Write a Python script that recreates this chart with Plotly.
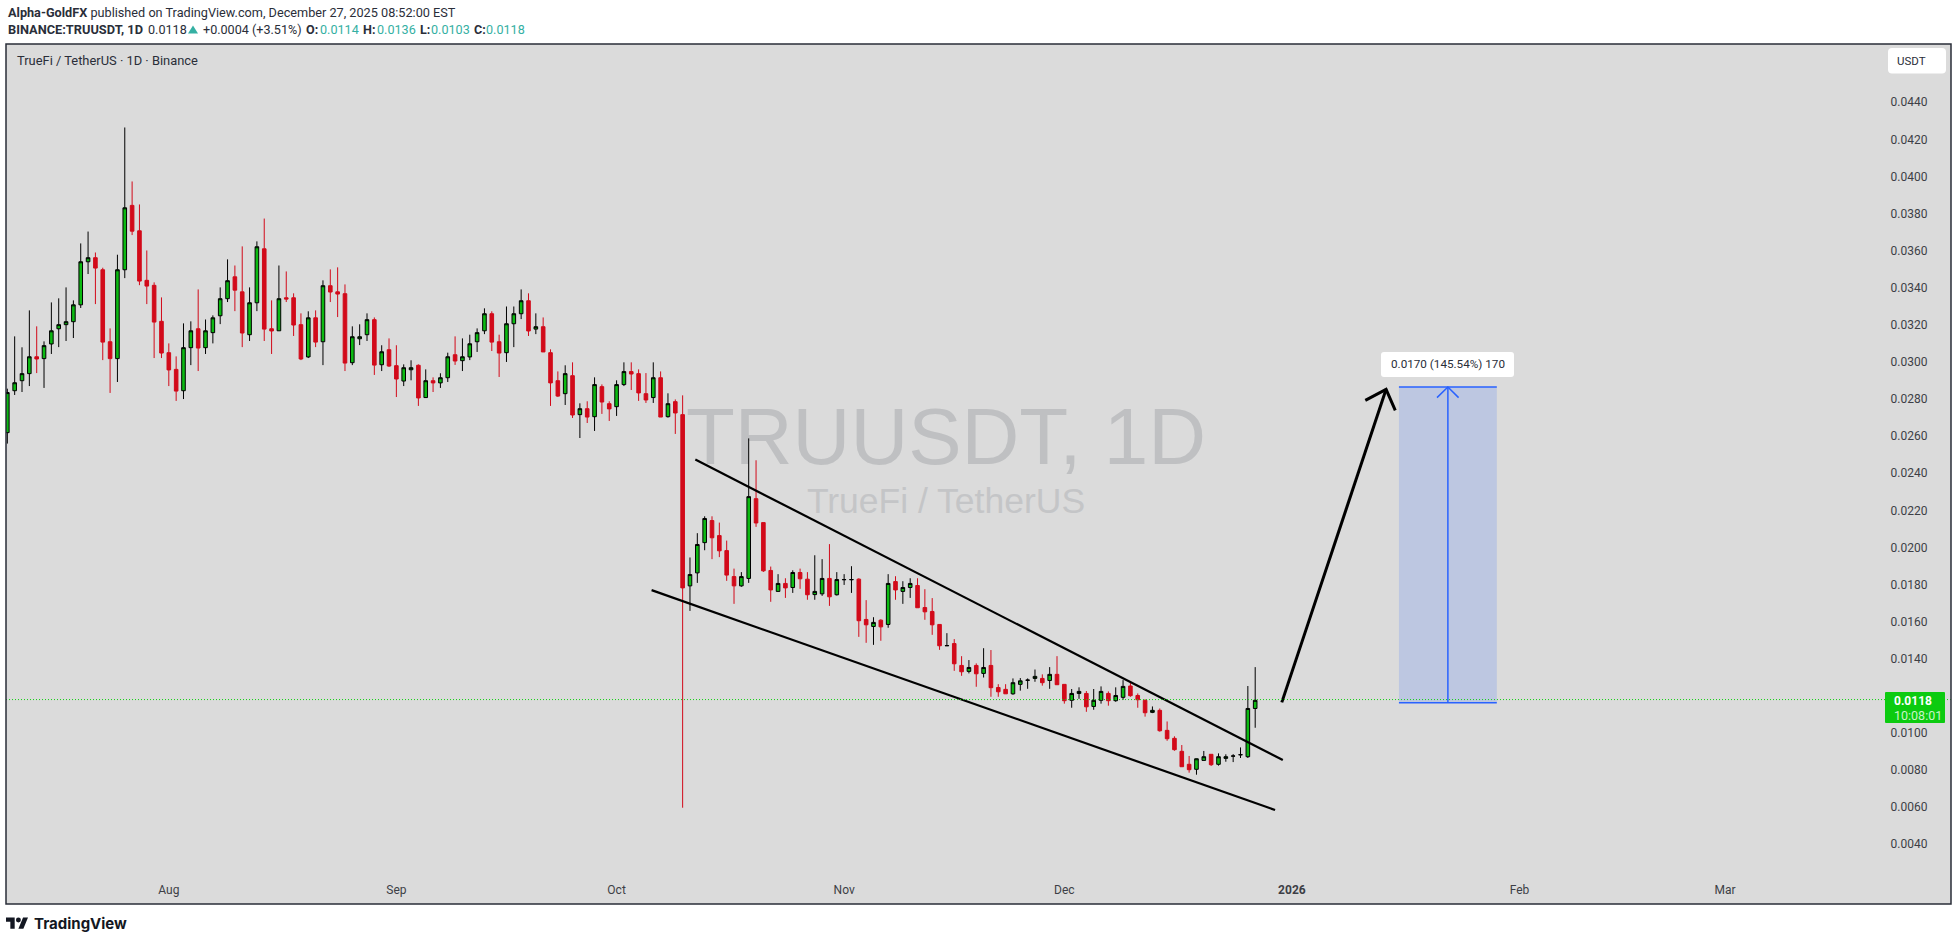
import pandas as pd
import plotly.graph_objects as go

W, H = 1957, 941
# plot frame in page pixels
L, R, T, B = 6, 1951, 44, 904

# daily candles, 2025-07-10 .. 2025-12-27
first_day = "2025-07-10"
opens = [
    .02619, .02845, .02899, .02937, .03028, .03018, .03097, .03179, .03201, .03217,
    .03308, .03540, .03562, .03497, .03109, .03018, .03497, .03844, .03707, .03440,
    .03413, .03219, .03050, .02960, .02845, .03077, .03179, .03077, .03158, .03249,
    .03341, .03459, .03378, .03147, .03319, .03610, .03179, .03168, .03346, .03346,
    .03201, .03027, .03238, .03109, .03411, .03378, .03368, .02996, .03125, .03147,
    .03228, .02985, .03066, .02980, .02897, .02958, .02982, .02808, .02899, .02887,
    .02915, .03039, .03007, .03027, .03109, .03168, .03260, .03109, .03050, .03206,
    .03260, .03330, .03177, .03190, .03050, .02899, .02829, .02926, .02716, .02748,
    .02705, .02867, .02775, .02759, .02878, .02948, .02937, .02829, .02808, .02915,
    .02705, .02786, .02716, .01793, .01863, .02026, .02145, .02064, .01983, .01843,
    .01793, .01833, .02263, .02134, .01876, .01763, .01806, .01784, .01865, .01829,
    .01746, .01750, .01833, .01745, .01826, .01826, .01829, .01612, .01574, .01608,
    .01585, .01816, .01763, .01784, .01795, .01676, .01655, .01585, .01470, .01482,
    .01364, .01332, .01364, .01321, .01364, .01245, .01235, .01211, .01262, .01284,
    .01294, .01294, .01283, .01316, .01262, .01176, .01213, .01213, .01143, .01176,
    .01213, .01174, .01192, .01253, .01202, .01176, .01111, .01122, .01014, .00971,
    .00901, .00831, .00804, .00852, .00885, .00831, .00863, .00875, .00882, .00872,
    .01132,
]
highs = [
    .02856, .03138, .03079, .03278, .03192, .03111, .03321, .03343, .03402, .03332,
    .03639, .03703, .03590, .03508, .03181, .03578, .04264, .03973, .03849, .03601,
    .03429, .03348, .03100, .03030, .03208, .03219, .03391, .03229, .03251, .03402,
    .03553, .03520, .03623, .03402, .03650, .03773, .03332, .03520, .03488, .03370,
    .03262, .03273, .03278, .03440, .03499, .03510, .03418, .03192, .03203, .03262,
    .03240, .03090, .03127, .03090, .02987, .03009, .02987, .02960, .02917, .02939,
    .03050, .03138, .03127, .03147, .03181, .03289, .03273, .03147, .03299, .03299,
    .03391, .03370, .03262, .03240, .03068, .02949, .02982, .02998, .02777, .02788,
    .02917, .02879, .02788, .02901, .02998, .02998, .02960, .02940, .02998, .02949,
    .02831, .02798, .02820, .01946, .02077, .02168, .02168, .02134, .02037, .01886,
    .01867, .02588, .02470, .02134, .01897, .01856, .01834, .01877, .01886, .01867,
    .01958, .01937, .02018, .01867, .01856, .01899, .01834, .01716, .01624, .01613,
    .01856, .01845, .01818, .01834, .01834, .01775, .01727, .01585, .01538, .01506,
    .01414, .01393, .01375, .01457, .01447, .01263, .01263, .01294, .01296, .01294,
    .01342, .01316, .01355, .01414, .01262, .01237, .01246, .01226, .01237, .01251,
    .01224, .01246, .01285, .01272, .01213, .01181, .01143, .01132, .01062, .00982,
    .00935, .00876, .00862, .00903, .00885, .00890, .00885, .00886, .00922, .01253,
    .01355,
]
lows = [
    .02560, .02822, .02838, .02870, .02940, .02860, .03043, .03080, .03113, .03129,
    .03291, .03474, .03312, .03010, .02833, .02892, .03452, .03684, .03414, .03312,
    .03021, .03021, .02870, .02790, .02800, .02983, .02951, .03043, .03100, .03204,
    .03323, .03274, .03080, .03113, .03274, .03113, .03043, .03168, .03323, .03140,
    .03010, .03021, .03080, .02983, .03323, .03242, .02951, .02983, .03091, .03113,
    .02930, .02951, .02973, .02811, .02870, .02901, .02763, .02806, .02838, .02860,
    .02892, .02984, .02951, .03010, .03054, .03150, .03059, .02919, .03000, .03080,
    .03231, .03140, .03150, .03054, .02763, .02811, .02768, .02698, .02590, .02671,
    .02628, .02720, .02682, .02709, .02870, .02849, .02790, .02779, .02779, .02703,
    .02700, .02612, .00597, .01658, .01809, .01985, .01937, .01948, .01820, .01696,
    .01788, .01809, .02111, .01868, .01707, .01763, .01728, .01755, .01777, .01718,
    .01718, .01739, .01685, .01741, .01798, .01755, .01518, .01486, .01475, .01497,
    .01567, .01718, .01696, .01728, .01675, .01610, .01529, .01448, .01470, .01335,
    .01308, .01321, .01249, .01299, .01195, .01195, .01211, .01206, .01228, .01238,
    .01276, .01255, .01238, .01260, .01158, .01136, .01184, .01114, .01125, .01158,
    .01147, .01168, .01179, .01195, .01136, .01088, .01107, .01007, .00958, .00904,
    .00818, .00786, .00775, .00852, .00822, .00824, .00845, .00843, .00865, .00865,
    .01028,
]
closes = [
    .02835, .02888, .02937, .03028, .03016, .03088, .03168, .03201, .03217, .03308,
    .03540, .03562, .03506, .03107, .03018, .03497, .03831, .03705, .03436, .03409,
    .03215, .03048, .02957, .02843, .03077, .03168, .03075, .03168, .03238, .03341,
    .03438, .03387, .03156, .03319, .03621, .03177, .03167, .03341, .03339, .03199,
    .03016, .03238, .03107, .03411, .03377, .03366, .02994, .03136, .03136, .03228,
    .02983, .03055, .02978, .02908, .02969, .02969, .02806, .02899, .02887, .02915,
    .03028, .03005, .03028, .03098, .03158, .03260, .03107, .03048, .03206, .03260,
    .03330, .03167, .03190, .03054, .02887, .02816, .02937, .02714, .02748, .02703,
    .02878, .02784, .02747, .02878, .02948, .02935, .02833, .02795, .02915, .02703,
    .02775, .02725, .01782, .01854, .02016, .02156, .02052, .01982, .01851, .01793,
    .01843, .02274, .02132, .01874, .01771, .01806, .01782, .01865, .01831, .01745,
    .01763, .01833, .01734, .01827, .01827, .01827, .01605, .01583, .01596, .01572,
    .01806, .01771, .01784, .01806, .01675, .01653, .01583, .01470, .01471, .01373,
    .01330, .01353, .01319, .01353, .01244, .01222, .01211, .01271, .01281, .01285,
    .01305, .01271, .01316, .01260, .01174, .01213, .01224, .01141, .01176, .01224,
    .01174, .01202, .01251, .01201, .01179, .01109, .01122, .01012, .00969, .00910,
    .00818, .00802, .00861, .00872, .00829, .00872, .00872, .00876, .00883, .01132,
    .01176,
]

y_ticks = [.0040, .0060, .0080, .0100, .0140, .0160, .0180, .0200, .0220, .0240, .0260,
           .0280, .0300, .0320, .0340, .0360, .0380, .0400, .0420, .0440]
x_tick_dates = ["2025-08-01", "2025-09-01", "2025-10-01", "2025-11-01", "2025-12-01",
                "2026-01-01", "2026-02-01", "2026-03-01"]
x_tick_text = ["Aug", "Sep", "Oct", "Nov", "Dec", "<b>2026</b>", "Feb", "Mar"]

last_price = 0.0118

# hand drawn lines on the chart
upper_x = ["2025-10-11 17:30", "2025-12-30 18:15"]
upper_y = [.024738, .00854]
lower_x = ["2025-10-05 18:30", "2025-12-29 17:00"]
lower_y = [.017698, .005847]
arrow_x = ["2025-12-30 15:00", "2026-01-13 20:00", None,
           "2026-01-11 00:00", "2026-01-13 20:00", "2026-01-15 02:00"]
arrow_y = [.011649, .028525, None, .027932, .028525, .027393]

# long position tool
box_x0, box_x1 = "2026-01-15 14:00", "2026-01-28 22:00"
box_top, box_bottom = .028648, .011627
measure_x = ["2026-01-22 06:00", "2026-01-22 06:00", None,
             "2026-01-20 18:30", "2026-01-22 06:00", "2026-01-23 17:00"]
measure_y = [box_bottom, box_top, None, .028078, box_top, .028078]

GREEN = "#0cba12"
RED = "#d20a1a"
BLUE = "#2962ff"
BG = "#dbdbdb"
INK = "#2a2e39"
TEAL = "#35b0a3"


def px(x):
    return (x - L) / (R - L)


def py(y):
    return (B - y) / (B - T)


def round_rect(x0, y0, x1, y1, r):
    a, b, c, d = px(x0), px(x1), py(y0), py(y1)
    rx, ry = r / (R - L), r / (B - T)
    return (f"M {a+rx},{c} L {b-rx},{c} Q {b},{c} {b},{c-ry} L {b},{d+ry} Q {b},{d} {b-rx},{d} "
            f"L {a+rx},{d} Q {a},{d} {a},{d+ry} L {a},{c-ry} Q {a},{c} {a+rx},{c} Z")


def label(x, y, text, size=12, color=INK, family="Roboto", anchor="left"):
    return dict(xref="paper", yref="paper", x=px(x), y=py(y), text=text, showarrow=False,
                xanchor=anchor, yanchor="middle", borderpad=0,
                font=dict(family=family, size=size, color=color))


def logo(x, y, s):
    # TradingView mark, 36 x 18 units
    pts = [(14, 22), (7, 22), (7, 11), (0, 11), (0, 4), (14, 4)]
    pts2 = [(28, 22), (20, 22), (27.5, 4), (35.5, 4)]
    out = []
    for group in (pts, pts2):
        p = [f"{px(x + a * s)},{py(y + (b - 4) * s)}" for a, b in group]
        out.append("M " + " L ".join(p) + " Z")
    return " ".join(out)


dates = pd.date_range(first_day, periods=len(closes), freq="D")

fig = go.Figure()

fig.add_trace(go.Candlestick(
    x=dates, open=opens, high=highs, low=lows, close=closes,
    increasing=dict(line=dict(color="#000000", width=1), fillcolor=GREEN),
    decreasing=dict(line=dict(color=RED, width=1), fillcolor=RED),
    whiskerwidth=0, hoverinfo="skip", showlegend=False,
))

for xs, ys, width, color in [
    (upper_x, upper_y, 2.2, "#000000"),
    (lower_x, lower_y, 2.2, "#000000"),
    (arrow_x, arrow_y, 3, "#000000"),
    (measure_x, measure_y, 1.5, BLUE),
]:
    fig.add_trace(go.Scatter(x=xs, y=ys, mode="lines", line=dict(color=color, width=width),
                             connectgaps=False, hoverinfo="skip", showlegend=False))

shapes = [
    # watermark sits under the candles
    dict(type="rect", xref="paper", yref="paper", x0=px(646), x1=px(1246), y0=py(388), y1=py(468),
         layer="below", line=dict(width=0), fillcolor="rgba(0,0,0,0)",
         label=dict(text="TRUUSDT, 1D", textposition="middle center",
                    font=dict(family="Liberation Sans", size=80, color="#bfc0c2"))),
    dict(type="rect", xref="paper", yref="paper", x0=px(746), x1=px(1146), y0=py(477.5), y1=py(517.5),
         layer="below", line=dict(width=0), fillcolor="rgba(0,0,0,0)",
         label=dict(text="TrueFi / TetherUS", textposition="middle center",
                    font=dict(family="Liberation Sans", size=35.5, color="#c4c5c7"))),
    # position box
    dict(type="rect", xref="x", yref="y", x0=box_x0, x1=box_x1, y0=box_bottom, y1=box_top,
         layer="below", line=dict(width=0), fillcolor="rgba(41,98,255,0.17)"),
    dict(type="line", xref="x", yref="y", x0=box_x0, x1=box_x1, y0=box_top, y1=box_top,
         line=dict(color=BLUE, width=1.5)),
    dict(type="line", xref="x", yref="y", x0=box_x0, x1=box_x1, y0=box_bottom, y1=box_bottom,
         line=dict(color=BLUE, width=1.5)),
    # last price line
    dict(type="line", xref="paper", yref="y", x0=0, x1=1, y0=last_price, y1=last_price,
         line=dict(color="#10d010", width=1, dash="1px,2px")),
    # frame
    dict(type="rect", xref="paper", yref="paper", x0=0, x1=1, y0=0, y1=1,
         line=dict(color=INK, width=1.5)),
    # position label, currency button, price tag
    dict(type="path", xref="paper", yref="paper", path=round_rect(1381, 352, 1514, 377, 3),
         fillcolor="#ffffff", line=dict(width=0)),
    dict(type="path", xref="paper", yref="paper", path=round_rect(1888, 48, 1946, 73.5, 4),
         fillcolor="#ffffff", line=dict(width=0)),
    dict(type="path", xref="paper", yref="paper", path=round_rect(1885, 692, 1945, 723, 1),
         fillcolor="#0ccb10", line=dict(width=0)),
    # legend triangle
    dict(type="path", xref="paper", yref="paper",
         path=f"M {px(188)},{py(33.5)} L {px(198)},{py(33.5)} L {px(193)},{py(25.5)} Z",
         fillcolor=TEAL, line=dict(width=0)),
    # logo
    dict(type="path", xref="paper", yref="paper", path=logo(6, 917.5, 0.62),
         fillcolor="#131722", line=dict(width=0)),
    dict(type="circle", xref="paper", yref="paper", x0=px(6 + 16 * .62), x1=px(6 + 24 * .62),
         y0=py(917.5 + 8 * .62), y1=py(917.5), fillcolor="#131722", line=dict(width=0)),
]

annotations = [
    label(6.7, 12.7, "<b>Alpha-GoldFX</b> published on TradingView.com, December 27, 2025 08:52:00 EST", size=12.7),
    label(6.7, 29.3, "<b>BINANCE:TRUUSDT, 1D</b>", size=12.8),
    label(147, 29.3, "0.0118", size=12.6),
    label(202, 29.3, "+0.0004 (+3.51%)", size=12.6),
    label(305, 29.3, "<b>O:</b>", size=12.6),
    label(319, 29.3, "0.0114", size=12.6, color=TEAL),
    label(362, 29.3, "<b>H:</b>", size=12.6),
    label(376, 29.3, "0.0136", size=12.6, color=TEAL),
    label(419, 29.3, "<b>L:</b>", size=12.6),
    label(430, 29.3, "0.0103", size=12.6, color=TEAL),
    label(473, 29.3, "<b>C:</b>", size=12.6),
    label(485, 29.3, "0.0118", size=12.6, color=TEAL),
    label(15.7, 60.3, "TrueFi / TetherUS · 1D · Binance", size=12.9),
    label(1447.7, 364.5, "0.0170 (145.54%) 170", size=11.7, anchor="center"),
    label(1911, 61, "USDT", size=11.5, anchor="center"),
    label(1892.7, 700.7, "<b>0.0118</b>", size=12, color="#ffffff"),
    label(1892.7, 715, "10:08:01", size=12.5, color="#c8f5c8"),
    label(33, 923.5, "<b>TradingView</b>", size=15, color="#131722", family="Inter"),
]

fig.update_layout(
    width=W, height=H, autosize=False,
    margin=dict(l=L, r=W - R, t=T, b=H - B, pad=0),
    paper_bgcolor="#ffffff", plot_bgcolor=BG,
    shapes=shapes, annotations=annotations, showlegend=False,
)
fig.update_xaxes(
    type="date", range=["2025-07-09 19:40", "2026-03-31 19:00"], rangeslider_visible=False,
    showgrid=False, zeroline=False, showline=False,
    tickmode="array", tickvals=x_tick_dates, ticktext=x_tick_text,
    ticklabelposition="inside", ticks="inside", ticklen=7, tickcolor="rgba(0,0,0,0)",
    tickfont=dict(family="Roboto", size=12, color="#3d3f46"),
)
fig.update_yaxes(
    side="right", range=[0.00078, 0.04714], showgrid=False, zeroline=False, showline=False,
    tickmode="array", tickvals=y_ticks, tickformat=".4f",
    ticklabelposition="inside", ticks="inside", ticklen=23, tickcolor="rgba(0,0,0,0)",
    tickfont=dict(family="Roboto", size=12, color="#3d3f46"),
)

fig.write_html("out.html", config={"displayModeBar": False},
               post_script="document.body.style.margin='0';")
